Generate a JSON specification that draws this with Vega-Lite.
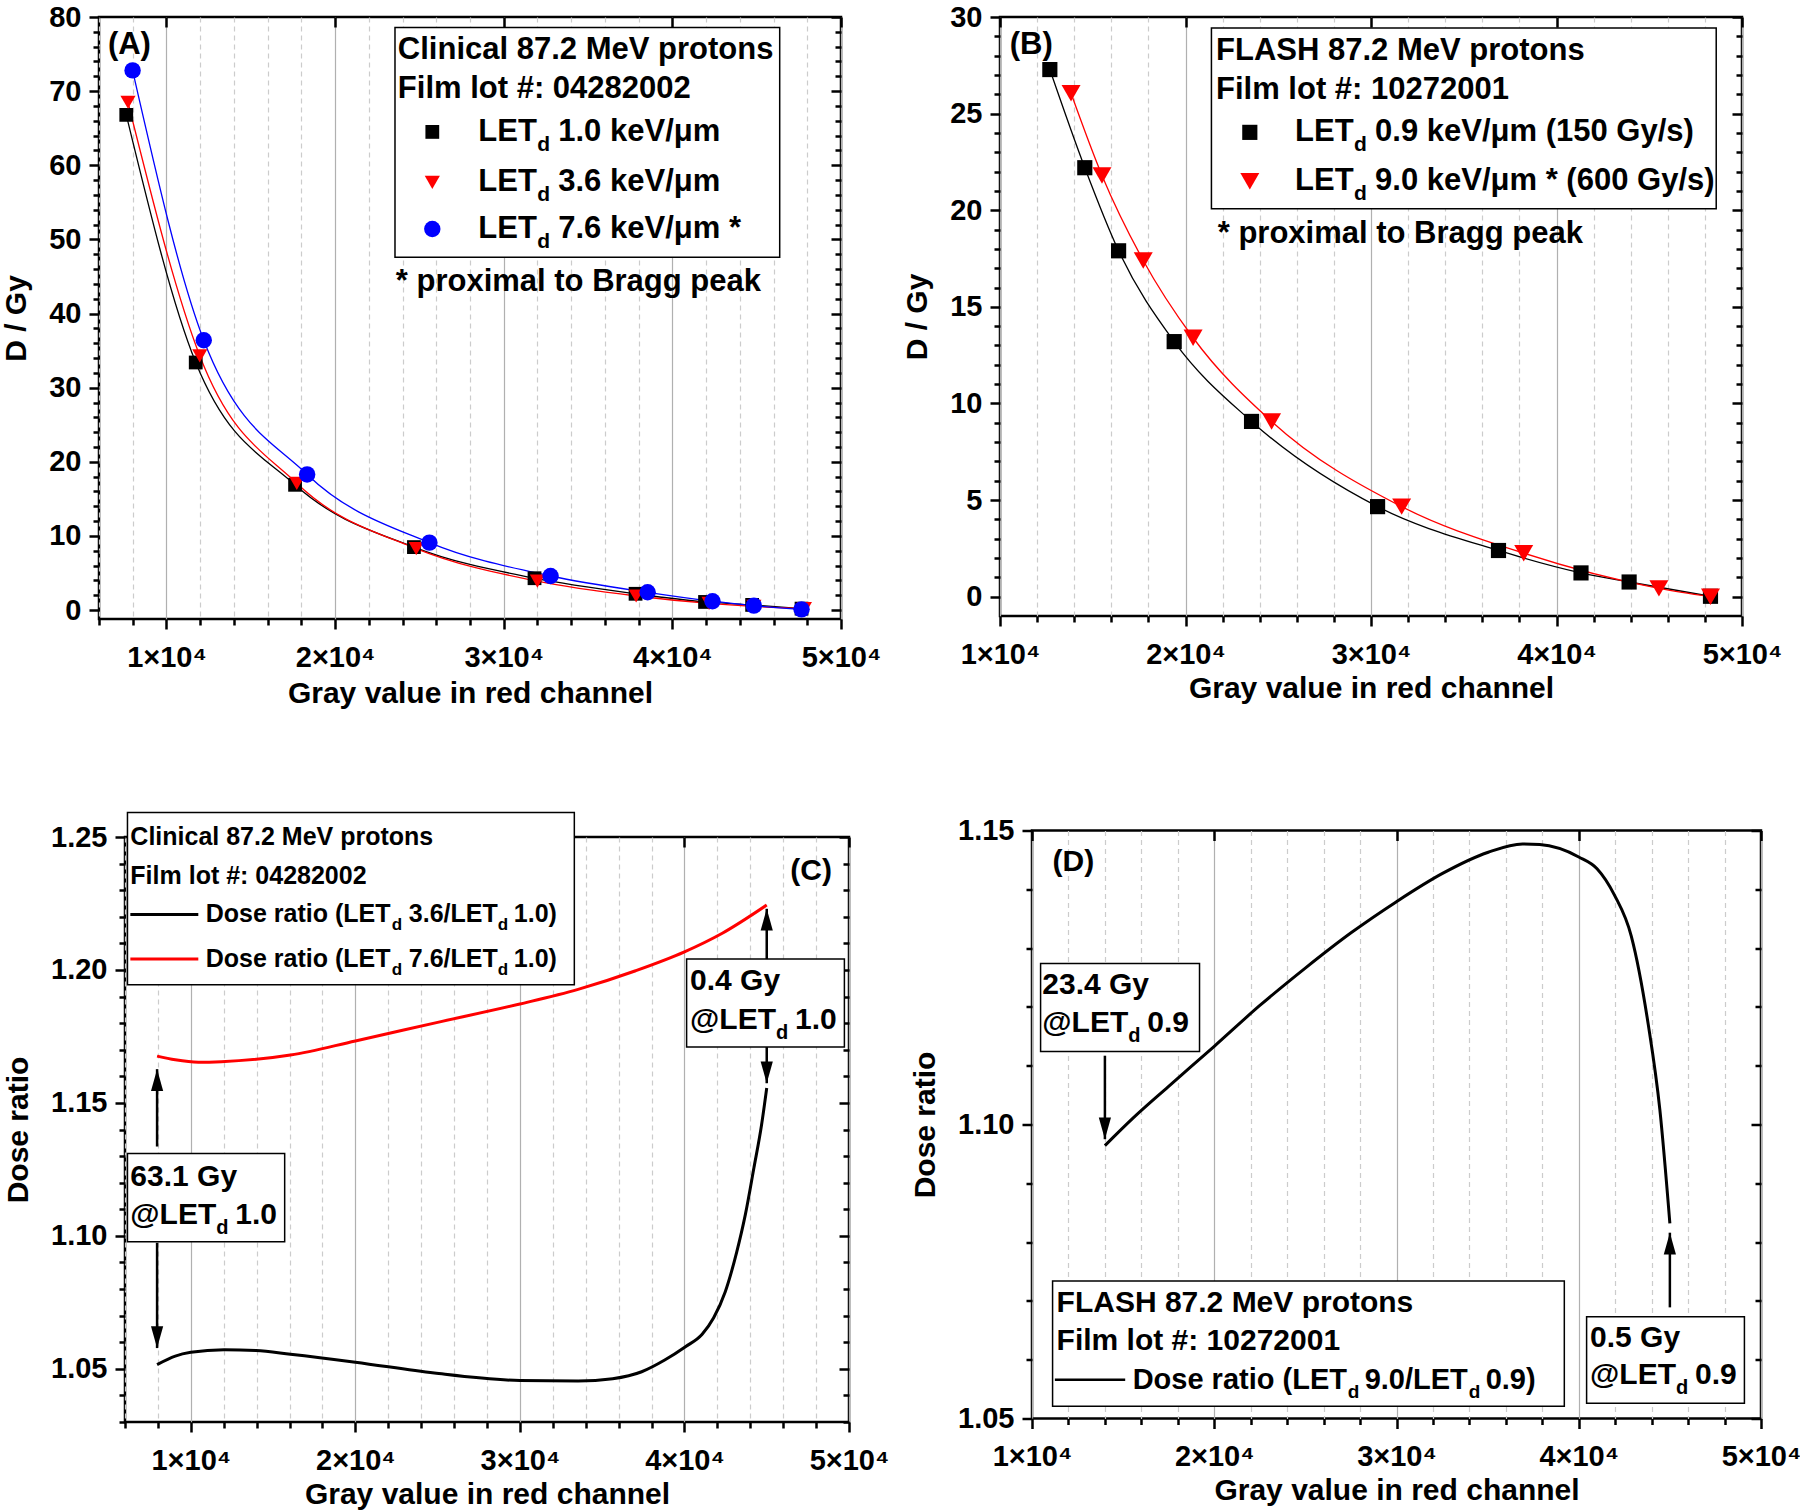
{
  "$schema": "https://vega.github.io/schema/vega-lite/v6.json",
  "background": "white",
  "padding": {"left": 0, "top": 1, "right": 0, "bottom": 0},
  "config": {
    "font": "Liberation Sans",
    "view": {"stroke": "#000000", "strokeWidth": 2.5},
    "axis": {"labelFont": "Liberation Sans", "labelFontWeight": "bold", "labelFontSize": 29, "labelColor": "#000000", "titleFont": "Liberation Sans", "titleFontWeight": "bold", "titleFontSize": 30, "titleColor": "#000000", "domain": false, "tickColor": "#000000", "tickWidth": 2.5, "labelOverlap": false, "labelBound": false, "labelFlush": false},
    "text": {"font": "Liberation Sans", "fontWeight": "bold", "color": "#000000"}
  },
  "datasets": {
    "ptsA": [
      {"s": "1.0", "x": 7617, "y": 66.8}, {"s": "1.0", "x": 11736, "y": 33.4}, {"s": "1.0", "x": 17627, "y": 16.9}, {"s": "1.0", "x": 24675, "y": 8.5}, {"s": "1.0", "x": 31826, "y": 4.3}, {"s": "1.0", "x": 37818, "y": 2.2}, {"s": "1.0", "x": 41938, "y": 1.1}, {"s": "1.0", "x": 44730, "y": 0.7}, {"s": "1.0", "x": 47660, "y": 0.2},
      {"s": "3.6", "x": 7719, "y": 68.5}, {"s": "3.6", "x": 11975, "y": 34.3}, {"s": "3.6", "x": 17729, "y": 17.1}, {"s": "3.6", "x": 24811, "y": 8.3}, {"s": "3.6", "x": 31996, "y": 3.9}, {"s": "3.6", "x": 37852, "y": 1.9}, {"s": "3.6", "x": 42176, "y": 0.9}, {"s": "3.6", "x": 44832, "y": 0.5}, {"s": "3.6", "x": 47829, "y": 0.2},
      {"s": "7.6", "x": 7991, "y": 72.8}, {"s": "7.6", "x": 12213, "y": 36.4}, {"s": "7.6", "x": 18342, "y": 18.3}, {"s": "7.6", "x": 25594, "y": 9.1}, {"s": "7.6", "x": 32778, "y": 4.6}, {"s": "7.6", "x": 38533, "y": 2.4}, {"s": "7.6", "x": 42380, "y": 1.2}, {"s": "7.6", "x": 44832, "y": 0.6}, {"s": "7.6", "x": 47660, "y": 0.1}
    ],
    "legSymA": [{"s": "1.0", "x": 25765, "y": 64.5}, {"s": "3.6", "x": 25765, "y": 57.7}, {"s": "7.6", "x": 25765, "y": 51.4}],
    "legTxtA": [{"x": 28490, "y": 64.5, "r": "1.0 keV/μm"}, {"x": 28490, "y": 57.7, "r": "3.6 keV/μm"}, {"x": 28490, "y": 51.4, "r": "7.6 keV/μm *"}],
    "txtA": [{"x": 6527, "y": 76.2, "text": "(A)"}, {"x": 23722, "y": 75.6, "text": "Clinical 87.2 MeV protons"}, {"x": 23722, "y": 70.3, "text": "Film lot #: 04282002"}, {"x": 23600, "y": 44.2, "text": "* proximal to Bragg peak"}],
    "boxA": [{"x": 23552, "x2": 46365, "y": 47.6, "y2": 78.6}],
    "ptsB": [
      {"s": "0.9", "x": 12687, "y": 27.28}, {"s": "0.9", "x": 14571, "y": 22.2}, {"s": "0.9", "x": 16394, "y": 17.9}, {"s": "0.9", "x": 19390, "y": 13.2}, {"s": "0.9", "x": 23560, "y": 9.07}, {"s": "0.9", "x": 30355, "y": 4.66}, {"s": "0.9", "x": 36873, "y": 2.39}, {"s": "0.9", "x": 41321, "y": 1.23}, {"s": "0.9", "x": 43915, "y": 0.76}, {"s": "0.9", "x": 48301, "y": 0.02},
      {"s": "9.0", "x": 13830, "y": 26.05}, {"s": "9.0", "x": 15498, "y": 21.8}, {"s": "9.0", "x": 17722, "y": 17.4}, {"s": "9.0", "x": 20409, "y": 13.4}, {"s": "9.0", "x": 24641, "y": 9.07}, {"s": "9.0", "x": 31653, "y": 4.66}, {"s": "9.0", "x": 38232, "y": 2.25}, {"s": "9.0", "x": 45521, "y": 0.43}, {"s": "9.0", "x": 48301, "y": 0.0}
    ],
    "legSymB": [{"s": "0.9", "x": 23467, "y": 24.03}, {"s": "9.0", "x": 23467, "y": 21.5}],
    "legTxtB": [{"x": 25907, "y": 24.03, "r": "0.9 keV/μm (150 Gy/s)"}, {"x": 25907, "y": 21.5, "r": "9.0 keV/μm * (600 Gy/s)"}],
    "txtB": [{"x": 10525, "y": 28.53, "text": "(B)"}, {"x": 21645, "y": 28.22, "text": "FLASH 87.2 MeV protons"}, {"x": 21645, "y": 26.23, "text": "Film lot #: 10272001"}, {"x": 21737, "y": 18.75, "text": "* proximal to Bragg peak"}],
    "boxB": [{"x": 21398, "x2": 48610, "y": 20.08, "y2": 29.43}],
    "lineC": [
      {"s": "3.6", "x": 7950, "y": 1.0516}, {"s": "3.6", "x": 9055, "y": 1.0548}, {"s": "3.6", "x": 10000, "y": 1.0562}, {"s": "3.6", "x": 12030, "y": 1.0572}, {"s": "3.6", "x": 13955, "y": 1.0569}, {"s": "3.6", "x": 16054, "y": 1.0555}, {"s": "3.6", "x": 20000, "y": 1.0525}, {"s": "3.6", "x": 24803, "y": 1.0484}, {"s": "3.6", "x": 30000, "y": 1.0456}, {"s": "3.6", "x": 33535, "y": 1.0454}, {"s": "3.6", "x": 35635, "y": 1.0463}, {"s": "3.6", "x": 37401, "y": 1.0489}, {"s": "3.6", "x": 38801, "y": 1.0533}, {"s": "3.6", "x": 40060, "y": 1.0583}, {"s": "3.6", "x": 41076, "y": 1.063}, {"s": "3.6", "x": 41775, "y": 1.0692}, {"s": "3.6", "x": 42475, "y": 1.0789}, {"s": "3.6", "x": 43175, "y": 1.0939}, {"s": "3.6", "x": 43700, "y": 1.108}, {"s": "3.6", "x": 44225, "y": 1.1257}, {"s": "3.6", "x": 44680, "y": 1.1415}, {"s": "3.6", "x": 45000, "y": 1.1556},
      {"s": "7.6", "x": 7950, "y": 1.1676}, {"s": "7.6", "x": 9055, "y": 1.1662}, {"s": "7.6", "x": 10455, "y": 1.1653}, {"s": "7.6", "x": 11855, "y": 1.1655}, {"s": "7.6", "x": 16054, "y": 1.168}, {"s": "7.6", "x": 20000, "y": 1.1733}, {"s": "7.6", "x": 25000, "y": 1.1803}, {"s": "7.6", "x": 30000, "y": 1.1872}, {"s": "7.6", "x": 33535, "y": 1.1927}, {"s": "7.6", "x": 37035, "y": 1.1997}, {"s": "7.6", "x": 40000, "y": 1.2068}, {"s": "7.6", "x": 42300, "y": 1.2138}, {"s": "7.6", "x": 45000, "y": 1.2244}
    ],
    "boxC": [{"x": 6150, "x2": 33307, "y": 1.1944, "y2": 1.2592}, {"x": 6150, "x2": 15704, "y": 1.0978, "y2": 1.131}, {"x": 40131, "x2": 49720, "y": 1.171, "y2": 1.2041}],
    "txtC25": [{"x": 6325, "y": 1.25, "text": "Clinical 87.2 MeV protons"}, {"x": 6325, "y": 1.2355, "text": "Film lot #: 04282002"}],
    "txtC30": [{"x": 46430, "y": 1.2373, "text": "(C)"}, {"x": 6325, "y": 1.1221, "text": "63.1 Gy"}, {"x": 40341, "y": 1.1959, "text": "0.4 Gy"}],
    "atC": [{"x": 6325, "y": 1.108, "r": "1.0"}, {"x": 40341, "y": 1.1812, "r": "1.0"}],
    "legLineC": [{"s": "3.6", "x": 6325, "x2": 10455, "y": 1.2209}, {"s": "7.6", "x": 6325, "x2": 10455, "y": 1.2041}],
    "legTxtC": [{"x": 10910, "y": 1.2209, "a": "3.6/LET"}, {"x": 10910, "y": 1.2041, "a": "7.6/LET"}],
    "arrC": [{"x": 7950, "y": 1.1336, "y2": 1.1627, "dir": "up"}, {"x": 7950, "y": 1.0974, "y2": 1.0578, "dir": "down"}, {"x": 45000, "y": 1.2041, "y2": 1.223, "dir": "up"}, {"x": 45000, "y": 1.171, "y2": 1.1574, "dir": "down"}],
    "lineD": [
      {"x": 14000, "y": 1.0964}, {"x": 15584, "y": 1.1012}, {"x": 17467, "y": 1.1064}, {"x": 20000, "y": 1.1133}, {"x": 22486, "y": 1.1202}, {"x": 24996, "y": 1.1266}, {"x": 27506, "y": 1.1326}, {"x": 30000, "y": 1.1379}, {"x": 32525, "y": 1.1427}, {"x": 35035, "y": 1.1463}, {"x": 36918, "y": 1.1477}, {"x": 37859, "y": 1.1476}, {"x": 40000, "y": 1.1455}, {"x": 41004, "y": 1.1435}, {"x": 41945, "y": 1.1391}, {"x": 42886, "y": 1.132}, {"x": 43819, "y": 1.1169}, {"x": 44447, "y": 1.1026}, {"x": 45000, "y": 1.0832}
    ],
    "boxD": [{"x": 11129, "x2": 39208, "y": 1.0521, "y2": 1.0734}, {"x": 10471, "x2": 19192, "y": 1.1124, "y2": 1.1274}, {"x": 40431, "x2": 49090, "y": 1.0526, "y2": 1.0673}],
    "txtD30": [{"x": 11129, "y": 1.1447, "text": "(D)"}, {"x": 11349, "y": 1.0697, "text": "FLASH 87.2 MeV protons"}, {"x": 11349, "y": 1.0632, "text": "Film lot #: 10272001"}, {"x": 10565, "y": 1.1238, "text": "23.4 Gy"}, {"x": 40620, "y": 1.0637, "text": "0.5 Gy"}],
    "atD": [{"x": 10565, "y": 1.1173, "r": "0.9"}, {"x": 40620, "y": 1.0574, "r": "0.9"}],
    "legLineD": [{"x": 11255, "x2": 15114, "y": 1.0566}],
    "legTxtD": [{"x": 15522, "y": 1.0566}],
    "arrD": [{"x": 14000, "y": 1.1117, "y2": 1.0975, "dir": "down"}, {"x": 45000, "y": 1.0689, "y2": 1.0816, "dir": "up"}]
  },
  "columns": 1,
  "align": "none",
  "spacing": 100,
  "resolve": {"scale": {"color": "independent", "shape": "independent", "size": "independent"}},
  "concat": [
    {
      "columns": 2,
      "align": "none",
      "spacing": 18,
      "resolve": {"scale": {"color": "independent", "shape": "independent", "size": "independent"}},
      "concat": [
        {
          "width": 742, "height": 602,
          "resolve": {"axis": {"x": "independent", "y": "independent"}},
          "layer": [
            {
              "data": {"name": "ptsA"},
              "mark": {"type": "point", "opacity": 0},
              "encoding": {
                "x": {"field": "x", "type": "quantitative", "scale": {"domain": [6000, 50000], "nice": false, "zero": false},
                  "axis": {"orient": "bottom", "values": [6000, 8000, 10000, 12000, 14000, 16000, 18000, 20000, 22000, 24000, 26000, 28000, 30000, 32000, 34000, 36000, 38000, 40000, 42000, 44000, 46000, 48000, 50000],
                    "labelExpr": "datum.value % 10000 === 0 ? (datum.value/10000) + '×10⁴' : ''",
                    "tickSize": {"condition": {"test": "datum.value % 10000 === 0", "value": 10}, "value": 6},
                    "grid": true,
                    "gridDash": {"condition": {"test": "datum.value % 10000 === 0", "value": []}, "value": [5, 4]},
                    "gridColor": {"condition": {"test": "datum.value % 10000 === 0", "value": "#b0b0b0"}, "value": "#cccccc"},
                    "gridWidth": 1.2, "labelPadding": 14, "title": "Gray value in red channel", "titlePadding": 6}},
                "y": {"field": "y", "type": "quantitative", "scale": {"domain": [-1.2, 80], "nice": false, "zero": false},
                  "axis": {"orient": "left", "values": [0, 2, 4, 6, 8, 10, 12, 14, 16, 18, 20, 22, 24, 26, 28, 30, 32, 34, 36, 38, 40, 42, 44, 46, 48, 50, 52, 54, 56, 58, 60, 62, 64, 66, 68, 70, 72, 74, 76, 78, 80],
                    "labelExpr": "datum.value % 10 === 0 ? '' + datum.value : ''",
                    "tickSize": {"condition": {"test": "datum.value % 10 === 0", "value": 10}, "value": 6},
                    "grid": false, "labelPadding": 8, "title": "D / Gy", "titlePadding": 17}}
              }
            },
            {
              "data": {"name": "ptsA"},
              "mark": {"type": "point", "opacity": 0},
              "encoding": {
                "x": {"field": "x", "type": "quantitative", "scale": {"domain": [6000, 50000], "nice": false, "zero": false},
                  "axis": {"orient": "top", "values": [10000, 20000, 30000, 40000, 50000], "labels": false, "title": null, "grid": false, "tickSize": -10}},
                "y": {"field": "y", "type": "quantitative", "scale": {"domain": [-1.2, 80], "nice": false, "zero": false},
                  "axis": {"orient": "right", "values": [0, 2, 4, 6, 8, 10, 12, 14, 16, 18, 20, 22, 24, 26, 28, 30, 32, 34, 36, 38, 40, 42, 44, 46, 48, 50, 52, 54, 56, 58, 60, 62, 64, 66, 68, 70, 72, 74, 76, 78, 80],
                    "labels": false, "title": null, "grid": false,
                    "tickSize": {"condition": {"test": "datum.value % 10 === 0", "value": -10}, "value": -6}}}
              }
            },
            {
              "data": {"name": "ptsA"},
              "mark": {"type": "line", "interpolate": "monotone", "strokeWidth": 1.3},
              "encoding": {
                "x": {"field": "x", "type": "quantitative", "scale": {"domain": [6000, 50000], "nice": false, "zero": false}, "axis": null},
                "y": {"field": "y", "type": "quantitative", "scale": {"domain": [-1.2, 80], "nice": false, "zero": false}, "axis": null},
                "color": {"field": "s", "type": "nominal", "scale": {"domain": ["1.0", "3.6", "7.6"], "range": ["#000000", "#ff0000", "#0000ff"]}, "legend": null}
              }
            },
            {
              "data": {"name": "ptsA"},
              "mark": {"type": "point", "filled": true, "opacity": 1},
              "encoding": {
                "x": {"field": "x", "type": "quantitative", "scale": {"domain": [6000, 50000], "nice": false, "zero": false}, "axis": null},
                "y": {"field": "y", "type": "quantitative", "scale": {"domain": [-1.2, 80], "nice": false, "zero": false}, "axis": null},
                "color": {"field": "s", "type": "nominal", "scale": {"domain": ["1.0", "3.6", "7.6"], "range": ["#000000", "#ff0000", "#0000ff"]}, "legend": null},
                "shape": {"field": "s", "type": "nominal", "scale": {"domain": ["1.0", "3.6", "7.6"], "range": ["square", "triangle-down", "circle"]}, "legend": null},
                "size": {"field": "s", "type": "ordinal", "scale": {"domain": ["1.0", "3.6", "7.6"], "range": [190, 270, 240]}, "legend": null}
              }
            },
            {
              "data": {"name": "boxA"},
              "mark": {"type": "rect", "fill": "#ffffff", "stroke": "#000000", "strokeWidth": 1.5},
              "encoding": {
                "x": {"field": "x", "type": "quantitative", "scale": {"domain": [6000, 50000], "nice": false, "zero": false}, "axis": null},
                "x2": {"field": "x2"},
                "y": {"field": "y", "type": "quantitative", "scale": {"domain": [-1.2, 80], "nice": false, "zero": false}, "axis": null},
                "y2": {"field": "y2"}
              }
            },
            {
              "data": {"name": "legSymA"},
              "mark": {"type": "point", "filled": true, "opacity": 1},
              "encoding": {
                "x": {"field": "x", "type": "quantitative", "scale": {"domain": [6000, 50000], "nice": false, "zero": false}, "axis": null},
                "y": {"field": "y", "type": "quantitative", "scale": {"domain": [-1.2, 80], "nice": false, "zero": false}, "axis": null},
                "color": {"field": "s", "type": "nominal", "scale": {"domain": ["1.0", "3.6", "7.6"], "range": ["#000000", "#ff0000", "#0000ff"]}, "legend": null},
                "shape": {"field": "s", "type": "nominal", "scale": {"domain": ["1.0", "3.6", "7.6"], "range": ["square", "triangle-down", "circle"]}, "legend": null},
                "size": {"field": "s", "type": "ordinal", "scale": {"domain": ["1.0", "3.6", "7.6"], "range": [190, 270, 240]}, "legend": null}
              }
            },
            {
              "data": {"name": "txtA"},
              "mark": {"type": "text", "align": "left", "baseline": "middle", "fontSize": 31, "fontWeight": "bold", "color": "#000000"},
              "encoding": {
                "x": {"field": "x", "type": "quantitative", "scale": {"domain": [6000, 50000], "nice": false, "zero": false}, "axis": null},
                "y": {"field": "y", "type": "quantitative", "scale": {"domain": [-1.2, 80], "nice": false, "zero": false}, "axis": null},
                "text": {"field": "text"}
              }
            },
            {
              "data": {"name": "legTxtA"},
              "mark": {"type": "text", "text": "LET", "align": "left", "baseline": "middle", "fontSize": 31, "fontWeight": "bold", "color": "#000000"},
              "encoding": {
                "x": {"field": "x", "type": "quantitative", "scale": {"domain": [6000, 50000], "nice": false, "zero": false}, "axis": null},
                "y": {"field": "y", "type": "quantitative", "scale": {"domain": [-1.2, 80], "nice": false, "zero": false}, "axis": null}
              }
            },
            {
              "data": {"name": "legTxtA"},
              "mark": {"type": "text", "text": "d", "align": "left", "baseline": "alphabetic", "dx": 59, "dy": 19, "fontSize": 21, "fontWeight": "bold", "color": "#000000"},
              "encoding": {
                "x": {"field": "x", "type": "quantitative", "scale": {"domain": [6000, 50000], "nice": false, "zero": false}, "axis": null},
                "y": {"field": "y", "type": "quantitative", "scale": {"domain": [-1.2, 80], "nice": false, "zero": false}, "axis": null}
              }
            },
            {
              "data": {"name": "legTxtA"},
              "mark": {"type": "text", "align": "left", "baseline": "middle", "dx": 80, "fontSize": 31, "fontWeight": "bold", "color": "#000000"},
              "encoding": {
                "x": {"field": "x", "type": "quantitative", "scale": {"domain": [6000, 50000], "nice": false, "zero": false}, "axis": null},
                "y": {"field": "y", "type": "quantitative", "scale": {"domain": [-1.2, 80], "nice": false, "zero": false}, "axis": null},
                "text": {"field": "r"}
              }
            }
          ]
        },
        {
          "width": 742, "height": 599,
          "resolve": {"axis": {"x": "independent", "y": "independent"}},
          "layer": [
            {
              "data": {"name": "ptsB"},
              "mark": {"type": "point", "opacity": 0},
              "encoding": {
                "x": {"field": "x", "type": "quantitative", "scale": {"domain": [10000, 50000], "nice": false, "zero": false},
                  "axis": {"orient": "bottom", "values": [10000, 12000, 14000, 16000, 18000, 20000, 22000, 24000, 26000, 28000, 30000, 32000, 34000, 36000, 38000, 40000, 42000, 44000, 46000, 48000, 50000],
                    "labelExpr": "datum.value % 10000 === 0 ? (datum.value/10000) + '×10⁴' : ''",
                    "tickSize": {"condition": {"test": "datum.value % 10000 === 0", "value": 10}, "value": 6},
                    "grid": true,
                    "gridDash": {"condition": {"test": "datum.value % 10000 === 0", "value": []}, "value": [5, 4]},
                    "gridColor": {"condition": {"test": "datum.value % 10000 === 0", "value": "#b0b0b0"}, "value": "#cccccc"},
                    "gridWidth": 1.2, "labelPadding": 14, "title": "Gray value in red channel", "titlePadding": 4}},
                "y": {"field": "y", "type": "quantitative", "scale": {"domain": [-1, 30], "nice": false, "zero": false},
                  "axis": {"orient": "left", "values": [0, 1, 2, 3, 4, 5, 6, 7, 8, 9, 10, 11, 12, 13, 14, 15, 16, 17, 18, 19, 20, 21, 22, 23, 24, 25, 26, 27, 28, 29, 30],
                    "labelExpr": "datum.value % 5 === 0 ? '' + datum.value : ''",
                    "tickSize": {"condition": {"test": "datum.value % 5 === 0", "value": 10}, "value": 6},
                    "grid": false, "labelPadding": 8, "title": "D / Gy", "titlePadding": 17}}
              }
            },
            {
              "data": {"name": "ptsB"},
              "mark": {"type": "point", "opacity": 0},
              "encoding": {
                "x": {"field": "x", "type": "quantitative", "scale": {"domain": [10000, 50000], "nice": false, "zero": false},
                  "axis": {"orient": "top", "values": [10000, 20000, 30000, 40000, 50000], "labels": false, "title": null, "grid": false, "tickSize": -10}},
                "y": {"field": "y", "type": "quantitative", "scale": {"domain": [-1, 30], "nice": false, "zero": false},
                  "axis": {"orient": "right", "values": [0, 1, 2, 3, 4, 5, 6, 7, 8, 9, 10, 11, 12, 13, 14, 15, 16, 17, 18, 19, 20, 21, 22, 23, 24, 25, 26, 27, 28, 29, 30],
                    "labels": false, "title": null, "grid": false,
                    "tickSize": {"condition": {"test": "datum.value % 5 === 0", "value": -10}, "value": -6}}}
              }
            },
            {
              "data": {"name": "ptsB"},
              "mark": {"type": "line", "interpolate": "monotone", "strokeWidth": 1.3},
              "encoding": {
                "x": {"field": "x", "type": "quantitative", "scale": {"domain": [10000, 50000], "nice": false, "zero": false}, "axis": null},
                "y": {"field": "y", "type": "quantitative", "scale": {"domain": [-1, 30], "nice": false, "zero": false}, "axis": null},
                "color": {"field": "s", "type": "nominal", "scale": {"domain": ["0.9", "9.0"], "range": ["#000000", "#ff0000"]}, "legend": null}
              }
            },
            {
              "data": {"name": "ptsB"},
              "mark": {"type": "point", "filled": true, "opacity": 1},
              "encoding": {
                "x": {"field": "x", "type": "quantitative", "scale": {"domain": [10000, 50000], "nice": false, "zero": false}, "axis": null},
                "y": {"field": "y", "type": "quantitative", "scale": {"domain": [-1, 30], "nice": false, "zero": false}, "axis": null},
                "color": {"field": "s", "type": "nominal", "scale": {"domain": ["0.9", "9.0"], "range": ["#000000", "#ff0000"]}, "legend": null},
                "shape": {"field": "s", "type": "nominal", "scale": {"domain": ["0.9", "9.0"], "range": ["square", "triangle-down"]}, "legend": null},
                "size": {"field": "s", "type": "ordinal", "scale": {"domain": ["0.9", "9.0"], "range": [230, 360]}, "legend": null}
              }
            },
            {
              "data": {"name": "boxB"},
              "mark": {"type": "rect", "fill": "#ffffff", "stroke": "#000000", "strokeWidth": 1.5},
              "encoding": {
                "x": {"field": "x", "type": "quantitative", "scale": {"domain": [10000, 50000], "nice": false, "zero": false}, "axis": null},
                "x2": {"field": "x2"},
                "y": {"field": "y", "type": "quantitative", "scale": {"domain": [-1, 30], "nice": false, "zero": false}, "axis": null},
                "y2": {"field": "y2"}
              }
            },
            {
              "data": {"name": "legSymB"},
              "mark": {"type": "point", "filled": true, "opacity": 1},
              "encoding": {
                "x": {"field": "x", "type": "quantitative", "scale": {"domain": [10000, 50000], "nice": false, "zero": false}, "axis": null},
                "y": {"field": "y", "type": "quantitative", "scale": {"domain": [-1, 30], "nice": false, "zero": false}, "axis": null},
                "color": {"field": "s", "type": "nominal", "scale": {"domain": ["0.9", "9.0"], "range": ["#000000", "#ff0000"]}, "legend": null},
                "shape": {"field": "s", "type": "nominal", "scale": {"domain": ["0.9", "9.0"], "range": ["square", "triangle-down"]}, "legend": null},
                "size": {"field": "s", "type": "ordinal", "scale": {"domain": ["0.9", "9.0"], "range": [230, 360]}, "legend": null}
              }
            },
            {
              "data": {"name": "txtB"},
              "mark": {"type": "text", "align": "left", "baseline": "middle", "fontSize": 31, "fontWeight": "bold", "color": "#000000"},
              "encoding": {
                "x": {"field": "x", "type": "quantitative", "scale": {"domain": [10000, 50000], "nice": false, "zero": false}, "axis": null},
                "y": {"field": "y", "type": "quantitative", "scale": {"domain": [-1, 30], "nice": false, "zero": false}, "axis": null},
                "text": {"field": "text"}
              }
            },
            {
              "data": {"name": "legTxtB"},
              "mark": {"type": "text", "text": "LET", "align": "left", "baseline": "middle", "fontSize": 31, "fontWeight": "bold", "color": "#000000"},
              "encoding": {
                "x": {"field": "x", "type": "quantitative", "scale": {"domain": [10000, 50000], "nice": false, "zero": false}, "axis": null},
                "y": {"field": "y", "type": "quantitative", "scale": {"domain": [-1, 30], "nice": false, "zero": false}, "axis": null}
              }
            },
            {
              "data": {"name": "legTxtB"},
              "mark": {"type": "text", "text": "d", "align": "left", "baseline": "alphabetic", "dx": 59, "dy": 19, "fontSize": 21, "fontWeight": "bold", "color": "#000000"},
              "encoding": {
                "x": {"field": "x", "type": "quantitative", "scale": {"domain": [10000, 50000], "nice": false, "zero": false}, "axis": null},
                "y": {"field": "y", "type": "quantitative", "scale": {"domain": [-1, 30], "nice": false, "zero": false}, "axis": null}
              }
            },
            {
              "data": {"name": "legTxtB"},
              "mark": {"type": "text", "align": "left", "baseline": "middle", "dx": 80, "fontSize": 31, "fontWeight": "bold", "color": "#000000"},
              "encoding": {
                "x": {"field": "x", "type": "quantitative", "scale": {"domain": [10000, 50000], "nice": false, "zero": false}, "axis": null},
                "y": {"field": "y", "type": "quantitative", "scale": {"domain": [-1, 30], "nice": false, "zero": false}, "axis": null},
                "text": {"field": "r"}
              }
            }
          ]
        }
      ]
    },
    {
      "columns": 2,
      "align": "none",
      "spacing": 18,
      "resolve": {"scale": {"color": "independent", "shape": "independent", "size": "independent"}},
      "concat": [
        {
          "columns": 2,
          "align": "none",
          "spacing": -98,
          "resolve": {"scale": {"color": "independent", "shape": "independent", "size": "independent"}},
          "concat": [
            {
              "width": 1, "height": 1,
              "view": {"stroke": null},
              "data": {"values": [{"k": 0}]},
              "mark": {"type": "point", "size": 0, "opacity": 0},
              "encoding": {}
            },
            {
              "width": 724, "height": 585,
              "resolve": {"axis": {"x": "independent", "y": "independent"}},
              "layer": [
                {
                  "data": {"name": "lineC"},
                  "mark": {"type": "point", "opacity": 0},
                  "encoding": {
                    "x": {"field": "x", "type": "quantitative", "scale": {"domain": [6000, 50000], "nice": false, "zero": false},
                      "axis": {"orient": "bottom", "values": [6000, 8000, 10000, 12000, 14000, 16000, 18000, 20000, 22000, 24000, 26000, 28000, 30000, 32000, 34000, 36000, 38000, 40000, 42000, 44000, 46000, 48000, 50000],
                        "labelExpr": "datum.value % 10000 === 0 ? (datum.value/10000) + '×10⁴' : ''",
                        "tickSize": {"condition": {"test": "datum.value % 10000 === 0", "value": 10}, "value": 6},
                        "grid": true,
                        "gridDash": {"condition": {"test": "datum.value % 10000 === 0", "value": []}, "value": [5, 4]},
                        "gridColor": {"condition": {"test": "datum.value % 10000 === 0", "value": "#b0b0b0"}, "value": "#cccccc"},
                        "gridWidth": 1.2, "labelPadding": 14, "title": "Gray value in red channel", "titlePadding": 4}},
                    "y": {"field": "y", "type": "quantitative", "scale": {"domain": [1.03, 1.25], "nice": false, "zero": false},
                      "axis": {"orient": "left", "values": [1.03, 1.04, 1.05, 1.06, 1.07, 1.08, 1.09, 1.1, 1.11, 1.12, 1.13, 1.14, 1.15, 1.16, 1.17, 1.18, 1.19, 1.2, 1.21, 1.22, 1.23, 1.24, 1.25],
                        "labelExpr": "abs(datum.value*20 - round(datum.value*20)) < 1e-6 ? format(datum.value, '.2f') : ''",
                        "tickSize": {"condition": {"test": "abs(datum.value*20 - round(datum.value*20)) < 1e-6", "value": 10}, "value": 6},
                        "grid": false, "labelPadding": 8, "title": "Dose ratio", "titlePadding": 17}}
                  }
                },
                {
                  "data": {"name": "lineC"},
                  "mark": {"type": "point", "opacity": 0},
                  "encoding": {
                    "x": {"field": "x", "type": "quantitative", "scale": {"domain": [6000, 50000], "nice": false, "zero": false},
                      "axis": {"orient": "top", "values": [10000, 20000, 30000, 40000, 50000], "labels": false, "title": null, "grid": false, "tickSize": -10}},
                    "y": {"field": "y", "type": "quantitative", "scale": {"domain": [1.03, 1.25], "nice": false, "zero": false},
                      "axis": {"orient": "right", "values": [1.03, 1.04, 1.05, 1.06, 1.07, 1.08, 1.09, 1.1, 1.11, 1.12, 1.13, 1.14, 1.15, 1.16, 1.17, 1.18, 1.19, 1.2, 1.21, 1.22, 1.23, 1.24, 1.25],
                        "labels": false, "title": null, "grid": false,
                        "tickSize": {"condition": {"test": "abs(datum.value*20 - round(datum.value*20)) < 1e-6", "value": -10}, "value": -6}}}
                  }
                },
                {
                  "data": {"name": "lineC"},
                  "mark": {"type": "line", "interpolate": "monotone", "strokeWidth": 3},
                  "encoding": {
                    "x": {"field": "x", "type": "quantitative", "scale": {"domain": [6000, 50000], "nice": false, "zero": false}, "axis": null},
                    "y": {"field": "y", "type": "quantitative", "scale": {"domain": [1.03, 1.25], "nice": false, "zero": false}, "axis": null},
                    "color": {"field": "s", "type": "nominal", "scale": {"domain": ["3.6", "7.6"], "range": ["#000000", "#ff0000"]}, "legend": null}
                  }
                },
                {
                  "data": {"name": "boxC"},
                  "mark": {"type": "rect", "fill": "#ffffff", "stroke": "#000000", "strokeWidth": 1.5},
                  "encoding": {
                    "x": {"field": "x", "type": "quantitative", "scale": {"domain": [6000, 50000], "nice": false, "zero": false}, "axis": null},
                    "x2": {"field": "x2"},
                    "y": {"field": "y", "type": "quantitative", "scale": {"domain": [1.03, 1.25], "nice": false, "zero": false}, "axis": null},
                    "y2": {"field": "y2"}
                  }
                },
                {
                  "data": {"name": "arrC"},
                  "mark": {"type": "rule", "strokeWidth": 2.5, "color": "#000000"},
                  "encoding": {
                    "x": {"field": "x", "type": "quantitative", "scale": {"domain": [6000, 50000], "nice": false, "zero": false}, "axis": null},
                    "y": {"field": "y", "type": "quantitative", "scale": {"domain": [1.03, 1.25], "nice": false, "zero": false}, "axis": null},
                    "y2": {"field": "y2"}
                  }
                },
                {
                  "data": {"name": "arrC"},
                  "mark": {"type": "point", "filled": true, "opacity": 1, "size": 1900, "color": "#000000"},
                  "encoding": {
                    "x": {"field": "x", "type": "quantitative", "scale": {"domain": [6000, 50000], "nice": false, "zero": false}, "axis": null},
                    "y": {"field": "y2", "type": "quantitative", "scale": {"domain": [1.03, 1.25], "nice": false, "zero": false}, "axis": null},
                    "shape": {"field": "dir", "type": "nominal", "scale": {"domain": ["up", "down"], "range": ["M0,0L-0.28,1L0.28,1Z", "M0,0L-0.28,-1L0.28,-1Z"]}, "legend": null}
                  }
                },
                {
                  "data": {"name": "legLineC"},
                  "mark": {"type": "rule", "strokeWidth": 3},
                  "encoding": {
                    "x": {"field": "x", "type": "quantitative", "scale": {"domain": [6000, 50000], "nice": false, "zero": false}, "axis": null},
                    "x2": {"field": "x2"},
                    "y": {"field": "y", "type": "quantitative", "scale": {"domain": [1.03, 1.25], "nice": false, "zero": false}, "axis": null},
                    "color": {"field": "s", "type": "nominal", "scale": {"domain": ["3.6", "7.6"], "range": ["#000000", "#ff0000"]}, "legend": null}
                  }
                },
                {
                  "data": {"name": "txtC25"},
                  "mark": {"type": "text", "align": "left", "baseline": "middle", "fontSize": 25, "fontWeight": "bold", "color": "#000000"},
                  "encoding": {
                    "x": {"field": "x", "type": "quantitative", "scale": {"domain": [6000, 50000], "nice": false, "zero": false}, "axis": null},
                    "y": {"field": "y", "type": "quantitative", "scale": {"domain": [1.03, 1.25], "nice": false, "zero": false}, "axis": null},
                    "text": {"field": "text"}
                  }
                },
                {
                  "data": {"name": "txtC30"},
                  "mark": {"type": "text", "align": "left", "baseline": "middle", "fontSize": 30, "fontWeight": "bold", "color": "#000000"},
                  "encoding": {
                    "x": {"field": "x", "type": "quantitative", "scale": {"domain": [6000, 50000], "nice": false, "zero": false}, "axis": null},
                    "y": {"field": "y", "type": "quantitative", "scale": {"domain": [1.03, 1.25], "nice": false, "zero": false}, "axis": null},
                    "text": {"field": "text"}
                  }
                },
                {
                  "data": {"name": "atC"},
                  "mark": {"type": "text", "text": "@LET", "align": "left", "baseline": "middle", "fontSize": 30, "fontWeight": "bold", "color": "#000000"},
                  "encoding": {
                    "x": {"field": "x", "type": "quantitative", "scale": {"domain": [6000, 50000], "nice": false, "zero": false}, "axis": null},
                    "y": {"field": "y", "type": "quantitative", "scale": {"domain": [1.03, 1.25], "nice": false, "zero": false}, "axis": null}
                  }
                },
                {
                  "data": {"name": "atC"},
                  "mark": {"type": "text", "text": "d", "align": "left", "baseline": "alphabetic", "dx": 86, "dy": 19, "fontSize": 20, "fontWeight": "bold", "color": "#000000"},
                  "encoding": {
                    "x": {"field": "x", "type": "quantitative", "scale": {"domain": [6000, 50000], "nice": false, "zero": false}, "axis": null},
                    "y": {"field": "y", "type": "quantitative", "scale": {"domain": [1.03, 1.25], "nice": false, "zero": false}, "axis": null}
                  }
                },
                {
                  "data": {"name": "atC"},
                  "mark": {"type": "text", "align": "left", "baseline": "middle", "dx": 105, "fontSize": 30, "fontWeight": "bold", "color": "#000000"},
                  "encoding": {
                    "x": {"field": "x", "type": "quantitative", "scale": {"domain": [6000, 50000], "nice": false, "zero": false}, "axis": null},
                    "y": {"field": "y", "type": "quantitative", "scale": {"domain": [1.03, 1.25], "nice": false, "zero": false}, "axis": null},
                    "text": {"field": "r"}
                  }
                },
                {
                  "data": {"name": "legTxtC"},
                  "mark": {"type": "text", "text": "Dose ratio (LET", "align": "left", "baseline": "middle", "fontSize": 25, "fontWeight": "bold", "color": "#000000"},
                  "encoding": {
                    "x": {"field": "x", "type": "quantitative", "scale": {"domain": [6000, 50000], "nice": false, "zero": false}, "axis": null},
                    "y": {"field": "y", "type": "quantitative", "scale": {"domain": [1.03, 1.25], "nice": false, "zero": false}, "axis": null}
                  }
                },
                {
                  "data": {"name": "legTxtC"},
                  "mark": {"type": "text", "text": "d", "align": "left", "baseline": "alphabetic", "dx": 186, "dy": 16, "fontSize": 17, "fontWeight": "bold", "color": "#000000"},
                  "encoding": {
                    "x": {"field": "x", "type": "quantitative", "scale": {"domain": [6000, 50000], "nice": false, "zero": false}, "axis": null},
                    "y": {"field": "y", "type": "quantitative", "scale": {"domain": [1.03, 1.25], "nice": false, "zero": false}, "axis": null}
                  }
                },
                {
                  "data": {"name": "legTxtC"},
                  "mark": {"type": "text", "align": "left", "baseline": "middle", "dx": 203, "fontSize": 25, "fontWeight": "bold", "color": "#000000"},
                  "encoding": {
                    "x": {"field": "x", "type": "quantitative", "scale": {"domain": [6000, 50000], "nice": false, "zero": false}, "axis": null},
                    "y": {"field": "y", "type": "quantitative", "scale": {"domain": [1.03, 1.25], "nice": false, "zero": false}, "axis": null},
                    "text": {"field": "a"}
                  }
                },
                {
                  "data": {"name": "legTxtC"},
                  "mark": {"type": "text", "text": "d", "align": "left", "baseline": "alphabetic", "dx": 292, "dy": 16, "fontSize": 17, "fontWeight": "bold", "color": "#000000"},
                  "encoding": {
                    "x": {"field": "x", "type": "quantitative", "scale": {"domain": [6000, 50000], "nice": false, "zero": false}, "axis": null},
                    "y": {"field": "y", "type": "quantitative", "scale": {"domain": [1.03, 1.25], "nice": false, "zero": false}, "axis": null}
                  }
                },
                {
                  "data": {"name": "legTxtC"},
                  "mark": {"type": "text", "text": "1.0)", "align": "left", "baseline": "middle", "dx": 308, "fontSize": 25, "fontWeight": "bold", "color": "#000000"},
                  "encoding": {
                    "x": {"field": "x", "type": "quantitative", "scale": {"domain": [6000, 50000], "nice": false, "zero": false}, "axis": null},
                    "y": {"field": "y", "type": "quantitative", "scale": {"domain": [1.03, 1.25], "nice": false, "zero": false}, "axis": null}
                  }
                }
              ]
            }
          ]
        },
        {
          "columns": 1,
          "align": "none",
          "spacing": -23.5,
          "resolve": {"scale": {"color": "independent", "shape": "independent", "size": "independent"}},
          "concat": [
            {
              "width": 1, "height": 1,
              "view": {"stroke": null},
              "data": {"values": [{"k": 0}]},
              "mark": {"type": "point", "size": 0, "opacity": 0},
              "encoding": {}
            },
            {
              "width": 729, "height": 588,
              "resolve": {"axis": {"x": "independent", "y": "independent"}},
              "layer": [
                {
                  "data": {"name": "lineD"},
                  "mark": {"type": "point", "opacity": 0},
                  "encoding": {
                    "x": {"field": "x", "type": "quantitative", "scale": {"domain": [10000, 50000], "nice": false, "zero": false},
                      "axis": {"orient": "bottom", "values": [10000, 12000, 14000, 16000, 18000, 20000, 22000, 24000, 26000, 28000, 30000, 32000, 34000, 36000, 38000, 40000, 42000, 44000, 46000, 48000, 50000],
                        "labelExpr": "datum.value % 10000 === 0 ? (datum.value/10000) + '×10⁴' : ''",
                        "tickSize": {"condition": {"test": "datum.value % 10000 === 0", "value": 10}, "value": 6},
                        "grid": true,
                        "gridDash": {"condition": {"test": "datum.value % 10000 === 0", "value": []}, "value": [5, 4]},
                        "gridColor": {"condition": {"test": "datum.value % 10000 === 0", "value": "#b0b0b0"}, "value": "#cccccc"},
                        "gridWidth": 1.2, "labelPadding": 14, "title": "Gray value in red channel", "titlePadding": 4}},
                    "y": {"field": "y", "type": "quantitative", "scale": {"domain": [1.05, 1.15], "nice": false, "zero": false},
                      "axis": {"orient": "left", "values": [1.05, 1.06, 1.07, 1.08, 1.09, 1.1, 1.11, 1.12, 1.13, 1.14, 1.15],
                        "labelExpr": "abs(datum.value*20 - round(datum.value*20)) < 1e-6 ? format(datum.value, '.2f') : ''",
                        "tickSize": {"condition": {"test": "abs(datum.value*20 - round(datum.value*20)) < 1e-6", "value": 10}, "value": 6},
                        "grid": false, "labelPadding": 8, "title": "Dose ratio", "titlePadding": 17}}
                  }
                },
                {
                  "data": {"name": "lineD"},
                  "mark": {"type": "point", "opacity": 0},
                  "encoding": {
                    "x": {"field": "x", "type": "quantitative", "scale": {"domain": [10000, 50000], "nice": false, "zero": false},
                      "axis": {"orient": "top", "values": [10000, 20000, 30000, 40000, 50000], "labels": false, "title": null, "grid": false, "tickSize": -10}},
                    "y": {"field": "y", "type": "quantitative", "scale": {"domain": [1.05, 1.15], "nice": false, "zero": false},
                      "axis": {"orient": "right", "values": [1.05, 1.06, 1.07, 1.08, 1.09, 1.1, 1.11, 1.12, 1.13, 1.14, 1.15],
                        "labels": false, "title": null, "grid": false,
                        "tickSize": {"condition": {"test": "abs(datum.value*20 - round(datum.value*20)) < 1e-6", "value": -10}, "value": -6}}}
                  }
                },
                {
                  "data": {"name": "lineD"},
                  "mark": {"type": "line", "interpolate": "monotone", "strokeWidth": 3, "color": "#000000"},
                  "encoding": {
                    "x": {"field": "x", "type": "quantitative", "scale": {"domain": [10000, 50000], "nice": false, "zero": false}, "axis": null},
                    "y": {"field": "y", "type": "quantitative", "scale": {"domain": [1.05, 1.15], "nice": false, "zero": false}, "axis": null}
                  }
                },
                {
                  "data": {"name": "boxD"},
                  "mark": {"type": "rect", "fill": "#ffffff", "stroke": "#000000", "strokeWidth": 1.5},
                  "encoding": {
                    "x": {"field": "x", "type": "quantitative", "scale": {"domain": [10000, 50000], "nice": false, "zero": false}, "axis": null},
                    "x2": {"field": "x2"},
                    "y": {"field": "y", "type": "quantitative", "scale": {"domain": [1.05, 1.15], "nice": false, "zero": false}, "axis": null},
                    "y2": {"field": "y2"}
                  }
                },
                {
                  "data": {"name": "arrD"},
                  "mark": {"type": "rule", "strokeWidth": 2.5, "color": "#000000"},
                  "encoding": {
                    "x": {"field": "x", "type": "quantitative", "scale": {"domain": [10000, 50000], "nice": false, "zero": false}, "axis": null},
                    "y": {"field": "y", "type": "quantitative", "scale": {"domain": [1.05, 1.15], "nice": false, "zero": false}, "axis": null},
                    "y2": {"field": "y2"}
                  }
                },
                {
                  "data": {"name": "arrD"},
                  "mark": {"type": "point", "filled": true, "opacity": 1, "size": 1900, "color": "#000000"},
                  "encoding": {
                    "x": {"field": "x", "type": "quantitative", "scale": {"domain": [10000, 50000], "nice": false, "zero": false}, "axis": null},
                    "y": {"field": "y2", "type": "quantitative", "scale": {"domain": [1.05, 1.15], "nice": false, "zero": false}, "axis": null},
                    "shape": {"field": "dir", "type": "nominal", "scale": {"domain": ["up", "down"], "range": ["M0,0L-0.28,1L0.28,1Z", "M0,0L-0.28,-1L0.28,-1Z"]}, "legend": null}
                  }
                },
                {
                  "data": {"name": "legLineD"},
                  "mark": {"type": "rule", "strokeWidth": 2.5, "color": "#000000"},
                  "encoding": {
                    "x": {"field": "x", "type": "quantitative", "scale": {"domain": [10000, 50000], "nice": false, "zero": false}, "axis": null},
                    "x2": {"field": "x2"},
                    "y": {"field": "y", "type": "quantitative", "scale": {"domain": [1.05, 1.15], "nice": false, "zero": false}, "axis": null}
                  }
                },
                {
                  "data": {"name": "txtD30"},
                  "mark": {"type": "text", "align": "left", "baseline": "middle", "fontSize": 30, "fontWeight": "bold", "color": "#000000"},
                  "encoding": {
                    "x": {"field": "x", "type": "quantitative", "scale": {"domain": [10000, 50000], "nice": false, "zero": false}, "axis": null},
                    "y": {"field": "y", "type": "quantitative", "scale": {"domain": [1.05, 1.15], "nice": false, "zero": false}, "axis": null},
                    "text": {"field": "text"}
                  }
                },
                {
                  "data": {"name": "atD"},
                  "mark": {"type": "text", "text": "@LET", "align": "left", "baseline": "middle", "fontSize": 30, "fontWeight": "bold", "color": "#000000"},
                  "encoding": {
                    "x": {"field": "x", "type": "quantitative", "scale": {"domain": [10000, 50000], "nice": false, "zero": false}, "axis": null},
                    "y": {"field": "y", "type": "quantitative", "scale": {"domain": [1.05, 1.15], "nice": false, "zero": false}, "axis": null}
                  }
                },
                {
                  "data": {"name": "atD"},
                  "mark": {"type": "text", "text": "d", "align": "left", "baseline": "alphabetic", "dx": 86, "dy": 19, "fontSize": 20, "fontWeight": "bold", "color": "#000000"},
                  "encoding": {
                    "x": {"field": "x", "type": "quantitative", "scale": {"domain": [10000, 50000], "nice": false, "zero": false}, "axis": null},
                    "y": {"field": "y", "type": "quantitative", "scale": {"domain": [1.05, 1.15], "nice": false, "zero": false}, "axis": null}
                  }
                },
                {
                  "data": {"name": "atD"},
                  "mark": {"type": "text", "align": "left", "baseline": "middle", "dx": 105, "fontSize": 30, "fontWeight": "bold", "color": "#000000"},
                  "encoding": {
                    "x": {"field": "x", "type": "quantitative", "scale": {"domain": [10000, 50000], "nice": false, "zero": false}, "axis": null},
                    "y": {"field": "y", "type": "quantitative", "scale": {"domain": [1.05, 1.15], "nice": false, "zero": false}, "axis": null},
                    "text": {"field": "r"}
                  }
                },
                {
                  "data": {"name": "legTxtD"},
                  "mark": {"type": "text", "text": "Dose ratio (LET", "align": "left", "baseline": "middle", "fontSize": 29, "fontWeight": "bold", "color": "#000000"},
                  "encoding": {
                    "x": {"field": "x", "type": "quantitative", "scale": {"domain": [10000, 50000], "nice": false, "zero": false}, "axis": null},
                    "y": {"field": "y", "type": "quantitative", "scale": {"domain": [1.05, 1.15], "nice": false, "zero": false}, "axis": null}
                  }
                },
                {
                  "data": {"name": "legTxtD"},
                  "mark": {"type": "text", "text": "d", "align": "left", "baseline": "alphabetic", "dx": 215, "dy": 18, "fontSize": 19, "fontWeight": "bold", "color": "#000000"},
                  "encoding": {
                    "x": {"field": "x", "type": "quantitative", "scale": {"domain": [10000, 50000], "nice": false, "zero": false}, "axis": null},
                    "y": {"field": "y", "type": "quantitative", "scale": {"domain": [1.05, 1.15], "nice": false, "zero": false}, "axis": null}
                  }
                },
                {
                  "data": {"name": "legTxtD"},
                  "mark": {"type": "text", "text": "9.0/LET", "align": "left", "baseline": "middle", "dx": 232, "fontSize": 29, "fontWeight": "bold", "color": "#000000"},
                  "encoding": {
                    "x": {"field": "x", "type": "quantitative", "scale": {"domain": [10000, 50000], "nice": false, "zero": false}, "axis": null},
                    "y": {"field": "y", "type": "quantitative", "scale": {"domain": [1.05, 1.15], "nice": false, "zero": false}, "axis": null}
                  }
                },
                {
                  "data": {"name": "legTxtD"},
                  "mark": {"type": "text", "text": "d", "align": "left", "baseline": "alphabetic", "dx": 336, "dy": 18, "fontSize": 19, "fontWeight": "bold", "color": "#000000"},
                  "encoding": {
                    "x": {"field": "x", "type": "quantitative", "scale": {"domain": [10000, 50000], "nice": false, "zero": false}, "axis": null},
                    "y": {"field": "y", "type": "quantitative", "scale": {"domain": [1.05, 1.15], "nice": false, "zero": false}, "axis": null}
                  }
                },
                {
                  "data": {"name": "legTxtD"},
                  "mark": {"type": "text", "text": "0.9)", "align": "left", "baseline": "middle", "dx": 353, "fontSize": 29, "fontWeight": "bold", "color": "#000000"},
                  "encoding": {
                    "x": {"field": "x", "type": "quantitative", "scale": {"domain": [10000, 50000], "nice": false, "zero": false}, "axis": null},
                    "y": {"field": "y", "type": "quantitative", "scale": {"domain": [1.05, 1.15], "nice": false, "zero": false}, "axis": null}
                  }
                }
              ]
            }
          ]
        }
      ]
    }
  ]
}
